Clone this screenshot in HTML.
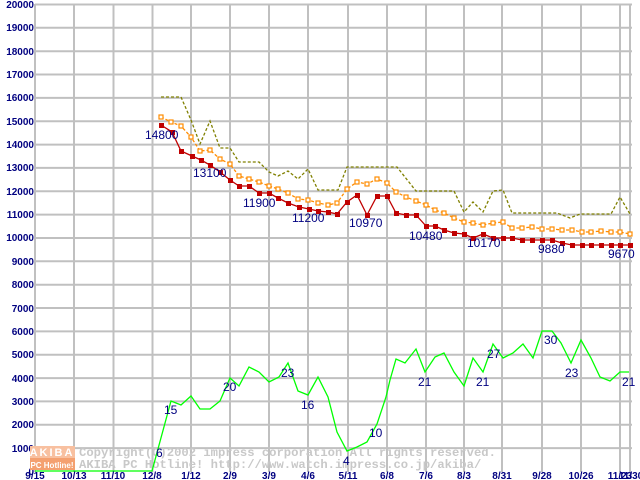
<!DOCTYPE html>
<html><head><meta charset="utf-8"><style>
html,body{margin:0;padding:0;background:#fff;}
svg{display:block;}
.yl{font-family:"Liberation Sans",sans-serif;font-size:10px;font-weight:bold;fill:#000080;text-anchor:end;}
.xl{font-family:"Liberation Sans",sans-serif;font-size:10px;font-weight:bold;fill:#000080;text-anchor:middle;}
.lb{font-family:"Liberation Sans",sans-serif;font-size:12px;fill:#000080;}
.wm{font-family:"Liberation Mono",monospace;font-size:12.2px;font-weight:bold;fill:#c8c8c8;}
</style></head><body>
<svg width="640" height="480" xmlns="http://www.w3.org/2000/svg">
<g stroke="#c0c0c0" stroke-width="2">
<line x1="35" y1="4.5" x2="632" y2="4.5"/><line x1="35" y1="27.8" x2="632" y2="27.8"/><line x1="35" y1="51.2" x2="632" y2="51.2"/><line x1="35" y1="74.5" x2="632" y2="74.5"/><line x1="35" y1="97.9" x2="632" y2="97.9"/><line x1="35" y1="121.2" x2="632" y2="121.2"/><line x1="35" y1="144.6" x2="632" y2="144.6"/><line x1="35" y1="167.9" x2="632" y2="167.9"/><line x1="35" y1="191.3" x2="632" y2="191.3"/><line x1="35" y1="214.6" x2="632" y2="214.6"/><line x1="35" y1="238" x2="632" y2="238"/><line x1="35" y1="261.3" x2="632" y2="261.3"/><line x1="35" y1="284.7" x2="632" y2="284.7"/><line x1="35" y1="308" x2="632" y2="308"/><line x1="35" y1="331.4" x2="632" y2="331.4"/><line x1="35" y1="354.7" x2="632" y2="354.7"/><line x1="35" y1="378.1" x2="632" y2="378.1"/><line x1="35" y1="401.4" x2="632" y2="401.4"/><line x1="35" y1="424.8" x2="632" y2="424.8"/><line x1="35" y1="448.1" x2="632" y2="448.1"/>
<line x1="35" y1="4" x2="35" y2="472"/><line x1="74" y1="4" x2="74" y2="472"/><line x1="113.5" y1="4" x2="113.5" y2="472"/><line x1="152.5" y1="4" x2="152.5" y2="472"/><line x1="191" y1="4" x2="191" y2="472"/><line x1="230" y1="4" x2="230" y2="472"/><line x1="269" y1="4" x2="269" y2="472"/><line x1="308" y1="4" x2="308" y2="472"/><line x1="348" y1="4" x2="348" y2="472"/><line x1="387" y1="4" x2="387" y2="472"/><line x1="426" y1="4" x2="426" y2="472"/><line x1="464" y1="4" x2="464" y2="472"/><line x1="502" y1="4" x2="502" y2="472"/><line x1="542" y1="4" x2="542" y2="472"/><line x1="581" y1="4" x2="581" y2="472"/><line x1="620" y1="4" x2="620" y2="472"/><line x1="630" y1="4" x2="630" y2="472"/>
</g>
<g class="yl">
<text x="34" y="8">20000</text><text x="34" y="31">19000</text><text x="34" y="55">18000</text><text x="34" y="78">17000</text><text x="34" y="101">16000</text><text x="34" y="125">15000</text><text x="34" y="148">14000</text><text x="34" y="171">13000</text><text x="34" y="195">12000</text><text x="34" y="218">11000</text><text x="34" y="241">10000</text><text x="34" y="265">9000</text><text x="34" y="288">8000</text><text x="34" y="312">7000</text><text x="34" y="335">6000</text><text x="34" y="358">5000</text><text x="34" y="382">4000</text><text x="34" y="405">3000</text><text x="34" y="428">2000</text><text x="34" y="452">1000</text><text x="34" y="475">0</text>
</g>
<g>
<rect x="30" y="446" width="45" height="12" fill="#f8c0a0"/>
<rect x="30" y="458" width="45" height="12" fill="#f4a070"/>
<text x="52" y="456" font-family="Liberation Sans,sans-serif" font-size="11" font-weight="bold" fill="#fff" text-anchor="middle" letter-spacing="2">AKIBA</text>
<text x="52" y="468" font-family="Liberation Sans,sans-serif" font-size="8" font-weight="bold" fill="#fff" text-anchor="middle">PC Hotline!</text>
<text class="wm" x="79" y="456">Copyright(C)2002 impress corporation All rights reserved.</text>
<text class="wm" x="79" y="468">AKIBA PC Hotline!  http://www.watch.impress.co.jp/akiba/</text>
</g>
<polyline fill="none" stroke="#808000" stroke-width="1.3" stroke-dasharray="3,2" points="161,97 181,97 191,120 200,144 210,121 220,148 230,148 239,162 259,162 269,172 278,176 288,171 298,179 308,169 318,190 338,190 347,167 397,167 416,191 454,191 464,212 473,202 483,212 493,191 503,190 512,213 557,213 570,218 580,214 611,214 620,197 630,214"/>
<polyline fill="none" stroke="#ff8c00" stroke-width="1.3" stroke-dasharray="3,2" points="161,117 171,122 181,126 191,137 200,151 210,150 220,159 230,164 239,176 249,179 259,182 269,186 278,189 288,193 298,199 308,200 318,203 328,205 337,203 347,189 357,182 367,184 377,179 387,183 396,192 406,197 416,201 426,205 435,210 444,213 454,218 464,222 473,223 483,225 493,223 503,222 512,228 522,228 532,227 542,229 552,229 562,230 572,230 582,232 591,232 601,231 611,232 620,232 630,234"/>
<g fill="#fff" stroke="#ff8c00" stroke-width="1.2">
<rect x="159" y="115" width="4" height="4"/><rect x="169" y="120" width="4" height="4"/><rect x="179" y="124" width="4" height="4"/><rect x="189" y="135" width="4" height="4"/><rect x="198" y="149" width="4" height="4"/><rect x="208" y="148" width="4" height="4"/><rect x="218" y="157" width="4" height="4"/><rect x="228" y="162" width="4" height="4"/><rect x="237" y="174" width="4" height="4"/><rect x="247" y="177" width="4" height="4"/><rect x="257" y="180" width="4" height="4"/><rect x="267" y="184" width="4" height="4"/><rect x="276" y="187" width="4" height="4"/><rect x="286" y="191" width="4" height="4"/><rect x="296" y="197" width="4" height="4"/><rect x="306" y="198" width="4" height="4"/><rect x="316" y="201" width="4" height="4"/><rect x="326" y="203" width="4" height="4"/><rect x="335" y="201" width="4" height="4"/><rect x="345" y="187" width="4" height="4"/><rect x="355" y="180" width="4" height="4"/><rect x="365" y="182" width="4" height="4"/><rect x="375" y="177" width="4" height="4"/><rect x="385" y="181" width="4" height="4"/><rect x="394" y="190" width="4" height="4"/><rect x="404" y="195" width="4" height="4"/><rect x="414" y="199" width="4" height="4"/><rect x="424" y="203" width="4" height="4"/><rect x="433" y="208" width="4" height="4"/><rect x="442" y="211" width="4" height="4"/><rect x="452" y="216" width="4" height="4"/><rect x="462" y="220" width="4" height="4"/><rect x="471" y="221" width="4" height="4"/><rect x="481" y="223" width="4" height="4"/><rect x="491" y="221" width="4" height="4"/><rect x="501" y="220" width="4" height="4"/><rect x="510" y="226" width="4" height="4"/><rect x="520" y="226" width="4" height="4"/><rect x="530" y="225" width="4" height="4"/><rect x="540" y="227" width="4" height="4"/><rect x="550" y="227" width="4" height="4"/><rect x="560" y="228" width="4" height="4"/><rect x="570" y="228" width="4" height="4"/><rect x="580" y="230" width="4" height="4"/><rect x="589" y="230" width="4" height="4"/><rect x="599" y="229" width="4" height="4"/><rect x="609" y="230" width="4" height="4"/><rect x="618" y="230" width="4" height="4"/><rect x="628" y="232" width="4" height="4"/>
</g>
<polyline fill="none" stroke="#c00000" stroke-width="1.3" points="161,125 172,132 181,151 192,156 201,160 210,165 220,172 230,180 239,186 249,186 259,193 269,193 278,198 288,203 299,207 309,209 318,211 328,212 337,214 347,202 357,195 367,215 377,196 387,196 396,213 406,215 416,215 426,226 435,226 444,230 454,233 464,234 473,238 483,234 493,238 503,238 512,238 522,240 532,240 542,240 552,240 562,243 572,245 582,245 591,245 601,245 611,245 620,245 630,245"/>
<g fill="#c00000">
<rect x="159" y="123" width="5" height="5"/><rect x="170" y="130" width="5" height="5"/><rect x="179" y="149" width="5" height="5"/><rect x="190" y="154" width="5" height="5"/><rect x="199" y="158" width="5" height="5"/><rect x="208" y="163" width="5" height="5"/><rect x="218" y="170" width="5" height="5"/><rect x="228" y="178" width="5" height="5"/><rect x="237" y="184" width="5" height="5"/><rect x="247" y="184" width="5" height="5"/><rect x="257" y="191" width="5" height="5"/><rect x="267" y="191" width="5" height="5"/><rect x="276" y="196" width="5" height="5"/><rect x="286" y="201" width="5" height="5"/><rect x="297" y="205" width="5" height="5"/><rect x="307" y="207" width="5" height="5"/><rect x="316" y="209" width="5" height="5"/><rect x="326" y="210" width="5" height="5"/><rect x="335" y="212" width="5" height="5"/><rect x="345" y="200" width="5" height="5"/><rect x="355" y="193" width="5" height="5"/><rect x="365" y="213" width="5" height="5"/><rect x="375" y="194" width="5" height="5"/><rect x="385" y="194" width="5" height="5"/><rect x="394" y="211" width="5" height="5"/><rect x="404" y="213" width="5" height="5"/><rect x="414" y="213" width="5" height="5"/><rect x="424" y="224" width="5" height="5"/><rect x="433" y="224" width="5" height="5"/><rect x="442" y="228" width="5" height="5"/><rect x="452" y="231" width="5" height="5"/><rect x="462" y="232" width="5" height="5"/><rect x="471" y="236" width="5" height="5"/><rect x="481" y="232" width="5" height="5"/><rect x="491" y="236" width="5" height="5"/><rect x="501" y="236" width="5" height="5"/><rect x="510" y="236" width="5" height="5"/><rect x="520" y="238" width="5" height="5"/><rect x="530" y="238" width="5" height="5"/><rect x="540" y="238" width="5" height="5"/><rect x="550" y="238" width="5" height="5"/><rect x="560" y="241" width="5" height="5"/><rect x="570" y="243" width="5" height="5"/><rect x="580" y="243" width="5" height="5"/><rect x="589" y="243" width="5" height="5"/><rect x="599" y="243" width="5" height="5"/><rect x="609" y="243" width="5" height="5"/><rect x="618" y="243" width="5" height="5"/><rect x="628" y="243" width="5" height="5"/>
</g>
<polyline fill="none" stroke="#00ff00" stroke-width="1.3" points="35,471 152,471 171,401 181,405 191,396 200,409 210,409 220,401 230,378 239,386 249,367 259,372 269,382 279,377 288,363 298,391 308,395 318,377 328,397 337,432 347,451 357,447 367,442 377,424 386,397 390,380 396,359 405,363 416,349 425,372 435,357 444,353 454,372 464,386 473,358 483,372 493,344 503,358 513,353 523,344 533,358 542,331 552,331 561,343 571,363 581,340 591,358 600,377 610,381 620,372 629,372"/>
<g class="lb">
<text x="145" y="139">14800</text><text x="193" y="177">13100</text><text x="243" y="207">11900</text><text x="292" y="222">11200</text><text x="349" y="227">10970</text><text x="409" y="240">10480</text><text x="467" y="247">10170</text><text x="538" y="253">9880</text><text x="608" y="258">9670</text>
<text x="156" y="457">6</text><text x="164" y="414">15</text><text x="223" y="391">20</text><text x="281" y="377">23</text><text x="301" y="409">16</text><text x="343" y="465">4</text><text x="369" y="437">10</text><text x="418" y="386">21</text><text x="476" y="386">21</text><text x="487" y="358">27</text><text x="544" y="344">30</text><text x="565" y="377">23</text><text x="622" y="386">21</text>
</g>
<g class="xl">
<text x="35" y="479">9/15</text><text x="74" y="479">10/13</text><text x="113" y="479">11/10</text><text x="152" y="479">12/8</text><text x="191" y="479">1/12</text><text x="230" y="479">2/9</text><text x="269" y="479">3/9</text><text x="308" y="479">4/6</text><text x="348" y="479">5/11</text><text x="387" y="479">6/8</text><text x="426" y="479">7/6</text><text x="464" y="479">8/3</text><text x="502" y="479">8/31</text><text x="542" y="479">9/28</text><text x="581" y="479">10/26</text><text x="620" y="479">11/23</text><text x="631" y="479">11/30</text>
</g>
</svg>
</body></html>
